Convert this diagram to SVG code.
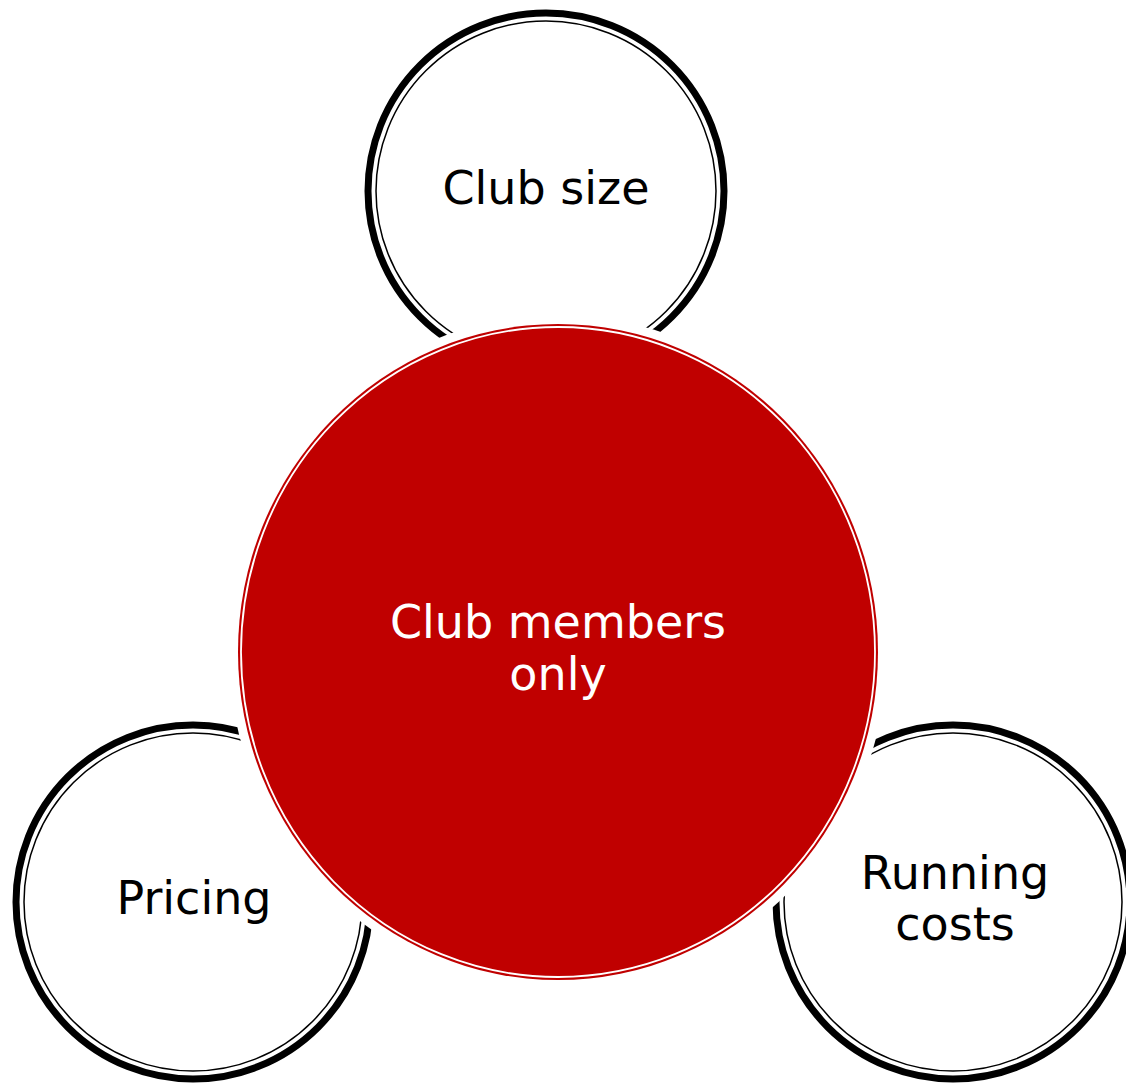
<svg xmlns="http://www.w3.org/2000/svg" width="1126" height="1086" viewBox="0 0 1126 1086">
<style>
.ring{fill:#fff;stroke:#000;stroke-width:7}
.thin{fill:none;stroke:#000;stroke-width:1.5}
.lbl{font-family:"DejaVu Sans",sans-serif;font-size:46px;text-anchor:middle;fill:#000}
.clbl{font-family:"DejaVu Sans",sans-serif;font-size:46px;text-anchor:middle;fill:#fff}
</style>
<rect width="1126" height="1086" fill="#fff"/>
<g id="node-club-size">
<circle class="ring" cx="546" cy="191" r="178"/>
<circle class="thin" cx="546" cy="191" r="170"/>
<text class="lbl" x="546" y="204">Club size</text>
</g>
<g id="node-pricing">
<circle class="ring" cx="193" cy="902" r="177"/>
<circle class="thin" cx="193" cy="902" r="169"/>
<text class="lbl" x="194" y="914">Pricing</text>
</g>
<g id="node-running-costs">
<circle class="ring" cx="953" cy="902" r="177"/>
<circle class="thin" cx="953" cy="902" r="169"/>
<text class="lbl" x="955" y="889">Running</text>
<text class="lbl" x="955" y="940">costs</text>
</g>
<g id="node-center">
<ellipse cx="558" cy="652" rx="329" ry="337" fill="#fff"/>
<ellipse cx="558" cy="652" rx="320" ry="328" fill="#C00000"/>
<ellipse cx="558" cy="652" rx="317" ry="325" fill="none" stroke="#fff" stroke-width="1.8"/>
<text class="clbl" x="558" y="638">Club members</text>
<text class="clbl" x="558" y="690">only</text>
</g>
<g id="connectors"/>
</svg>
